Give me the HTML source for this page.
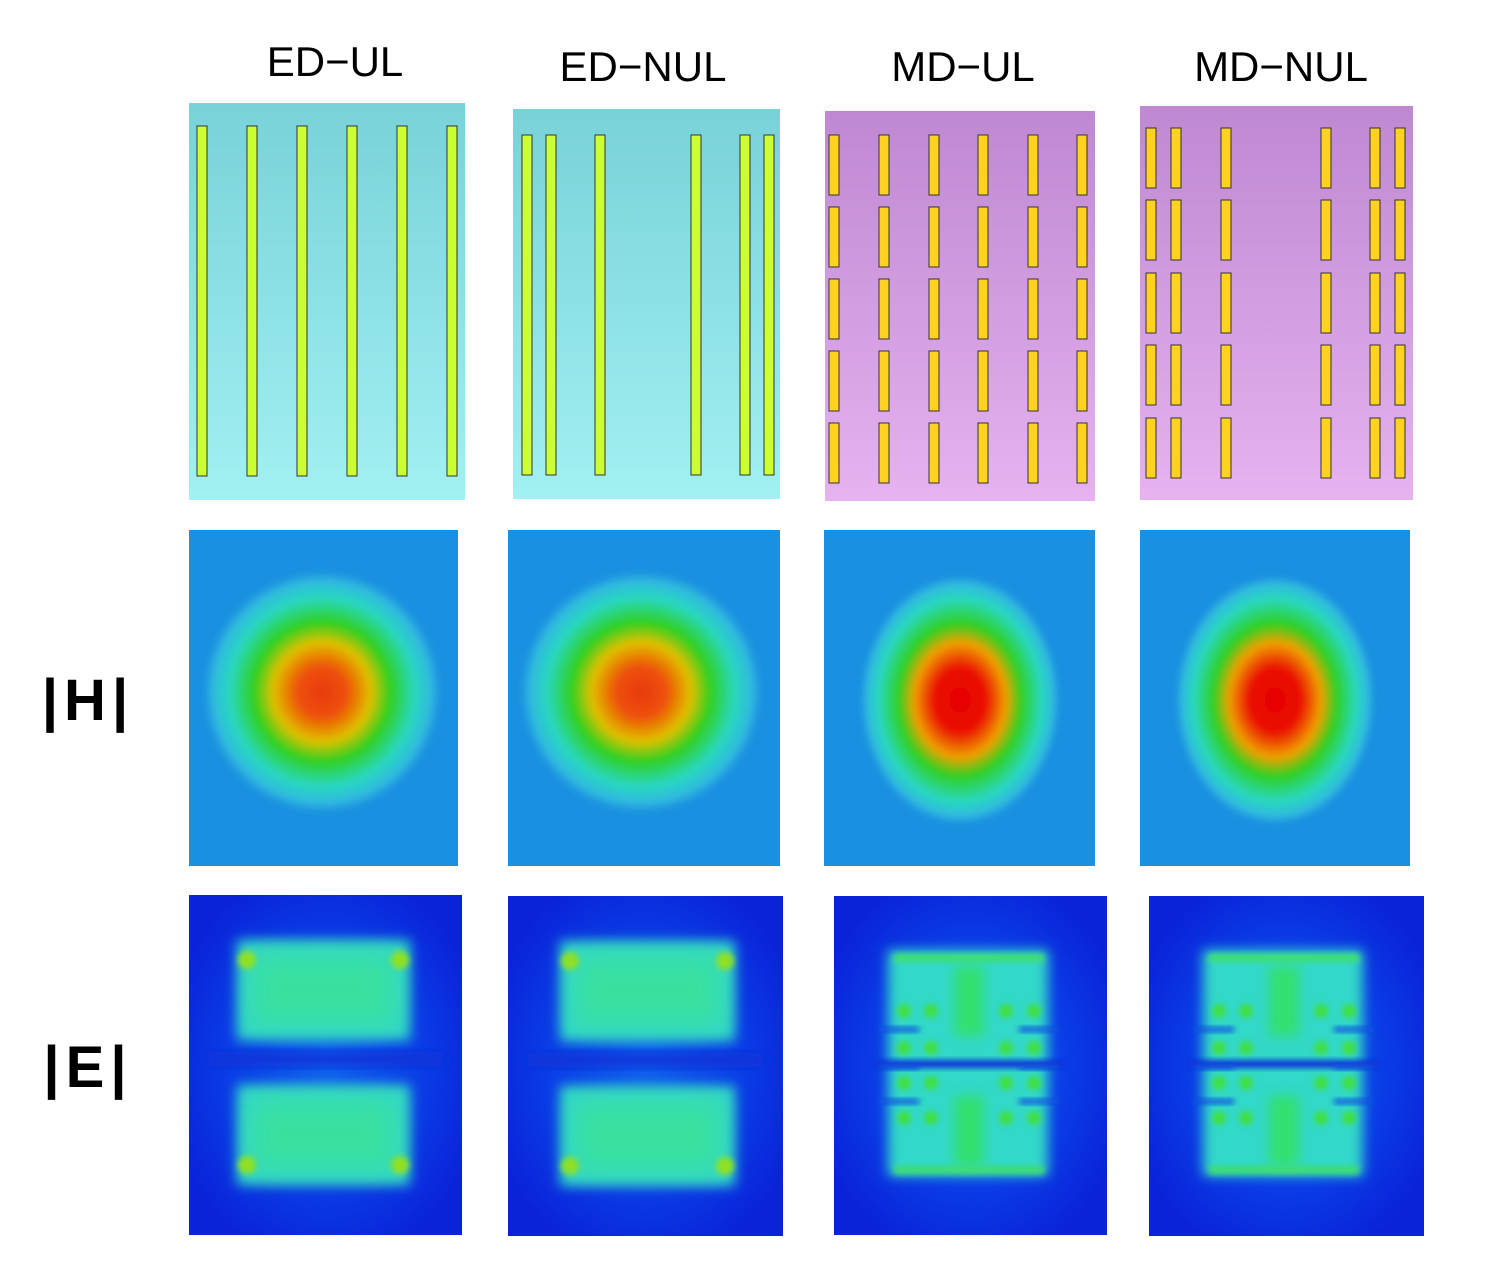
<!DOCTYPE html>
<html><head><meta charset="utf-8"><style>
html,body{margin:0;padding:0;background:#fff;}
svg{display:block;}
text{font-family:"Liberation Sans",sans-serif;}
</style></head><body>
<svg id="fig" width="1505" height="1285" viewBox="0 0 1505 1285" xmlns="http://www.w3.org/2000/svg">
<defs>
<linearGradient id="cyanG" x1="0" y1="0" x2="0" y2="1"><stop offset="0" stop-color="#78d2d8"/><stop offset="1" stop-color="#a2f0f2"/></linearGradient>
<linearGradient id="purG" x1="0" y1="0" x2="0" y2="1"><stop offset="0" stop-color="#bf88d2"/><stop offset="1" stop-color="#e6b2f0"/></linearGradient>
<radialGradient id="hG" cx="0.5" cy="0.5" r="0.5">
<stop offset="0" stop-color="#e83a08"/><stop offset="0.2" stop-color="#ee5008"/><stop offset="0.4" stop-color="#e0c000"/><stop offset="0.56" stop-color="#30d020"/><stop offset="0.76" stop-color="#28d8c0"/><stop offset="0.9" stop-color="#30b8e0"/><stop offset="1" stop-color="#1890e0" stop-opacity="0"/></radialGradient>
<radialGradient id="hG2" cx="0.5" cy="0.5" r="0.5">
<stop offset="0" stop-color="#e60000"/><stop offset="0.25" stop-color="#ea1000"/><stop offset="0.45" stop-color="#f0a000"/><stop offset="0.6" stop-color="#30d020"/><stop offset="0.8" stop-color="#28d8c0"/><stop offset="0.92" stop-color="#30b8e0"/><stop offset="1" stop-color="#1890e0" stop-opacity="0"/></radialGradient>
<radialGradient id="eBg" cx="0.5" cy="0.5" r="0.6"><stop offset="0" stop-color="#1060ee"/><stop offset="0.6" stop-color="#0a3ce6"/><stop offset="1" stop-color="#0a22d8"/></radialGradient>
<filter id="blur6" x="-30%" y="-30%" width="160%" height="160%"><feGaussianBlur stdDeviation="6"/></filter>
<filter id="blur3" x="-50%" y="-50%" width="200%" height="200%"><feGaussianBlur stdDeviation="3"/></filter>
<filter id="blur12" x="-30%" y="-30%" width="160%" height="160%"><feGaussianBlur stdDeviation="12"/></filter>
</defs>
<g id="root"></g>
</svg>
<script>
const titles = ["ED\u2212UL","ED\u2212NUL","MD\u2212UL","MD\u2212NUL"];
const titleX = [335,643,963,1281];
const titleY = [76,81,81,81];
const panels1 = [[189,103,276,397],[513,109,267,390],[825,111,270,390],[1140,106,273,394]];
const barColsED_UL = [197,247,297,347,397,447];
const barColsED_NUL = [522,546,595,691,740,764];
const barColsMD_UL = [829,879,929,978,1028,1077];
const barRowsMD_UL = [135,207,279,351,423];
const barColsMD_NUL = [1146,1171,1221,1321,1370,1395];
const barRowsMD_NUL = [128,200,273,345,418];
const panels2 = [[189,530,269,336],[508,530,272,336],[824,530,271,336],[1140,530,270,336]];
const hCenters = [[322,692,122,124],[641,692,124,124],[960,700,102,127],[1275,700,102,127]];
const panels3 = [[189,895,273,340],[508,896,275,340],[834,896,273,339],[1149,896,275,340]];

const NS="http://www.w3.org/2000/svg";
const root=document.getElementById('root');
function mk(tag,attrs,parent){const e=document.createElementNS(NS,tag);for(const k in attrs)e.setAttribute(k,attrs[k]);(parent||root).appendChild(e);return e;}

titles.forEach((t,i)=>{
  const e=mk('text',{x:titleX[i],y:titleY[i],'font-size':42,'text-anchor':'middle',fill:'#000'});
  e.textContent=t;
  
  
});
[['|H|',88,720],['|E|',88,1087]].forEach(([t,x,y])=>{
  const e=mk('text',{x:x,y:y,'font-size':58,'font-weight':'bold','text-anchor':'middle','letter-spacing':6,fill:'#000'});
  e.textContent=t;
  
  
});

panels1.forEach((p,i)=>{
  const r=mk('rect',{x:p[0],y:p[1],width:p[2],height:p[3],fill:i<2?'url(#cyanG)':'url(#purG)'});
  
  
});
function longBars(cols,y0,y1){cols.forEach(x=>{
  const b=mk('rect',{x:x,y:y0,width:10,height:y1-y0,fill:'#ccff33',stroke:'#333','stroke-width':1});
  
  
});}
longBars(barColsED_UL,126,476);
longBars(barColsED_NUL,135,475);
function shortBars(cols,rows){rows.forEach(y=>cols.forEach(x=>{
  const b=mk('rect',{x:x,y:y,width:10,height:60,fill:'#ffd21f',stroke:'#333','stroke-width':1});
  
  
}));}
shortBars(barColsMD_UL,barRowsMD_UL);
shortBars(barColsMD_NUL,barRowsMD_NUL);

panels2.forEach((p,i)=>{
  const g=mk('g',{});
  
  
  mk('rect',{x:p[0],y:p[1],width:p[2],height:p[3],fill:'#1a90e0'},g);
  const c=hCenters[i];
  mk('ellipse',{cx:c[0],cy:c[1],rx:c[2],ry:c[3],fill:i<2?'url(#hG)':'url(#hG2)',filter:'url(#blur3)'},g);
});

const edBlobs=[[[48,45,173,100],[48,190,173,100]],[[52,45,175,100],[52,190,175,100]]];
const mdSpotsX=[70,97,172,200];
const mdSpotsY=[115,152,187,222];
panels3.forEach((p,i)=>{
  const g=mk('g',{});
  
  
  mk('rect',{x:p[0],y:p[1],width:p[2],height:p[3],fill:'url(#eBg)'},g);
  if(i<2){
    edBlobs[i].forEach(b=>{
      mk('rect',{x:p[0]+b[0],y:p[1]+b[1],width:b[2],height:b[3],fill:'#30d8c8',filter:'url(#blur6)'},g);
      mk('rect',{x:p[0]+b[0]+15,y:p[1]+b[1]+15,width:b[2]-30,height:b[3]-30,fill:'#38e0a0',filter:'url(#blur12)'},g);
      [[b[0]+10,b[1]+(b[1]<100?20:b[3]-20)],[b[0]+b[2]-10,b[1]+(b[1]<100?20:b[3]-20)]].forEach(q=>{
        mk('circle',{cx:p[0]+q[0],cy:p[1]+q[1],r:9,fill:'#90e020',filter:'url(#blur3)'},g);
      });
    });
    mk('rect',{x:p[0]+20,y:p[1]+157,width:p[2]-40,height:14,fill:'#0a30d8',filter:'url(#blur6)'},g);
  } else {
    mk('rect',{x:p[0]+54,y:p[1]+54,width:160,height:226,fill:'#30d8c8',filter:'url(#blur6)'},g);
    mk('rect',{x:p[0]+120,y:p[1]+70,width:30,height:70,fill:'#30e070',filter:'url(#blur6)'},g);
    mk('rect',{x:p[0]+120,y:p[1]+200,width:30,height:70,fill:'#30e070',filter:'url(#blur6)'},g);
    mk('rect',{x:p[0]+60,y:p[1]+58,width:150,height:8,fill:'#40e070',filter:'url(#blur3)'},g);
    mk('rect',{x:p[0]+60,y:p[1]+270,width:150,height:8,fill:'#40e070',filter:'url(#blur3)'},g);
    mk('rect',{x:p[0]+40,y:p[1]+164,width:190,height:8,fill:'#0a30d8',filter:'url(#blur3)'},g);
    [133,170,205].forEach(y=>{
      mk('rect',{x:p[0]+45,y:p[1]+y-2,width:40,height:5,fill:'#1050e0',filter:'url(#blur3)'},g);
      mk('rect',{x:p[0]+185,y:p[1]+y-2,width:40,height:5,fill:'#1050e0',filter:'url(#blur3)'},g);
    });
    mdSpotsY.forEach(y=>mdSpotsX.forEach(x=>{
      mk('circle',{cx:p[0]+x,cy:p[1]+y,r:7,fill:'#40e040',filter:'url(#blur3)'},g);
    }));
  }
});
</script>
</body></html>
